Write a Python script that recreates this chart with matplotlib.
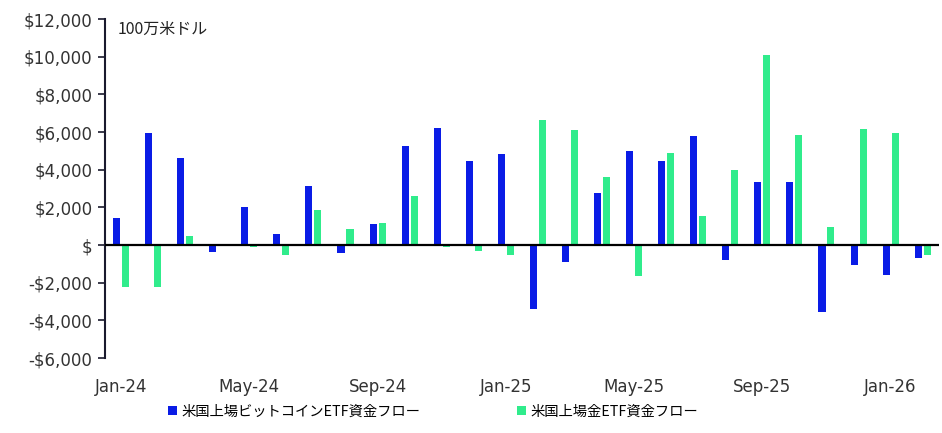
import numpy as np
import matplotlib
matplotlib.use('Agg')
import matplotlib.pyplot as plt
from matplotlib.ticker import FuncFormatter, MultipleLocator

# データ (100万米ドル)
months = ['Jan-24', 'Feb-24', 'Mar-24', 'Apr-24', 'May-24', 'Jun-24', 'Jul-24', 'Aug-24',
          'Sep-24', 'Oct-24', 'Nov-24', 'Dec-24', 'Jan-25', 'Feb-25', 'Mar-25', 'Apr-25',
          'May-25', 'Jun-25', 'Jul-25', 'Aug-25', 'Sep-25', 'Oct-25', 'Nov-25', 'Dec-25',
          'Jan-26', 'Feb-26']
btc_flow = [1450, 5970, 4600, -370, 2030, 610, 3140, -440,
            1140, 5250, 6230, 4490, 4810, -3420, -910, 2770,
            5020, 4490, 5770, -790, 3350, 3350, -3530, -1050,
            -1580, -680]
gold_flow = [-2250, -2250, 500, -20, -90, -540, 1880, 880,
             1150, 2610, -90, -330, -540, 6650, 6120, 3620,
             -1630, 4910, 1560, 3970, 10070, 5860, 980, 6180,
             5970, -540]
labels = ['米国上場ビットコインETF資金フロー', '米国上場金ETF資金フロー']

blue = '#0A1CE6'
green = '#30EC8C'

fig = plt.figure(figsize=(9.42, 4.33), dpi=100)
ax = fig.add_axes([0.1115, 0.173, 0.885, 0.783])

x = np.arange(len(months))
w = 0.22
b1 = ax.bar(x - 0.14, btc_flow, w, color=blue, label=labels[0])
b2 = ax.bar(x + 0.14, gold_flow, w, color=green, label=labels[1])

ax.axhline(0, color='black', lw=1.6, zorder=3)

ax.set_xlim(-0.5, len(months) - 0.5)
ax.set_ylim(-6000, 12000)
ax.yaxis.set_major_locator(MultipleLocator(2000))

def fmt(v, pos):
    if v == 0:
        return '$'
    if v < 0:
        return '-${:,.0f}'.format(-v)
    return '${:,.0f}'.format(v)

ax.yaxis.set_major_formatter(FuncFormatter(fmt))

ax.set_xticks(x[::4])
ax.set_xticklabels(months[::4])
ax.tick_params(axis='x', length=0, pad=14, labelsize=12, labelcolor='#333333')
ax.tick_params(axis='y', length=5, width=1.2, color='#1a1a2e', labelsize=12,
               labelcolor='#333333', pad=4)

for s in ['top', 'right', 'bottom']:
    ax.spines[s].set_visible(False)
ax.spines['left'].set_color('#1a1a2e')
ax.spines['left'].set_linewidth(1.5)

ax.text(0.015, 0.995, '100万米ドル', transform=ax.transAxes, ha='left', va='top',
        fontsize=11.5, family=['Noto Sans CJK JP', 'DejaVu Sans'], color='#222222')

fig.legend(handles=[b1, b2], loc='center left', bbox_to_anchor=(168 / 942, 0.05),
           ncol=2, frameon=False, borderpad=0, borderaxespad=0,
           handlelength=0.6, handleheight=0.6, handletextpad=0.35, columnspacing=6.75,
           prop={'family': ['Noto Sans CJK JP', 'DejaVu Sans'], 'size': 10.3})

fig.savefig('out.png', dpi=100)
